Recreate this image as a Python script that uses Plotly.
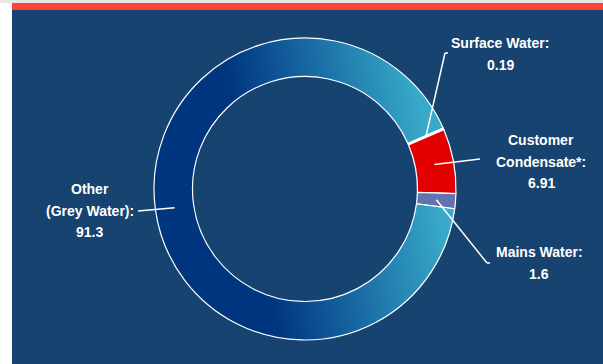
import math
import base64
import plotly.graph_objects as go

# ---------------- data ----------------
labels = ["Surface Water", "Customer Condensate*", "Mains Water", "Other (Grey Water)"]
values = [0.19, 6.91, 1.6, 91.3]
value_text = ["0.19", "6.91", "1.6", "91.3"]
label_lines = [["Surface Water:"], ["Customer", "Condensate*:"], ["Mains Water:"], ["Other", "(Grey Water):"]]

# ---------------- style / layout ----------------
W, H = 603, 364
BG = "#16436F"
slice_colors = ["#dce6f0", "#e20000", "#6373ad", "rgba(0,0,0,0)"]
CX, CY, R_OUT = 305, 189, 151
HOLE = 0.745
ROT = 66.2
FONT = dict(family="Liberation Sans, Arial, sans-serif", size=14, color="white", weight="bold")
LINE_GAP = 21.5

# label block anchor (centre of first line) and leader-line outer end, in pixels
label_pos = [(500, 43), (541, 140), (539, 252), (90, 189)]
leader_end = [(445, 53), (480, 159), (487, 263), (138, 211)]
leader_hook = [(448, 53), None, (490, 263), None]


def px(x):
    return x / W


def py(y):
    return 1 - y / H


fig = go.Figure()

fig.add_trace(go.Pie(
    labels=labels,
    values=values,
    hole=HOLE,
    sort=False,
    direction="clockwise",
    rotation=ROT,
    marker=dict(colors=slice_colors, line=dict(color="white", width=1.2)),
    textinfo="none",
    hoverinfo="label+value",
    showlegend=False,
    domain=dict(x=[px(CX - R_OUT), px(CX + R_OUT)], y=[py(CY + R_OUT), py(CY - R_OUT)]),
))

# gradient fill of the large ring slice (image behind the pie)
r_mid_u = 50 * (1 + HOLE) / 2
sw_u = 50 * (1 - HOLE) + 0.3
svg = (
    "<svg xmlns='http://www.w3.org/2000/svg' viewBox='0 0 100 100' width='302' height='302'>"
    "<defs><linearGradient id='g' gradientUnits='userSpaceOnUse' x1='32.1' y1='53.4' x2='91.7' y2='42.0'>"
    "<stop offset='0' stop-color='#003580'/>"
    "<stop offset='0.5' stop-color='#1a6ea6'/>"
    "<stop offset='1' stop-color='#38a9c8'/>"
    "</linearGradient></defs>"
    f"<circle cx='50' cy='50' r='{r_mid_u:.3f}' fill='none' stroke='url(#g)' stroke-width='{sw_u:.3f}'/>"
    "</svg>"
)
src = "data:image/svg+xml;base64," + base64.b64encode(svg.encode()).decode()
fig.add_layout_image(dict(
    source=src, xref="paper", yref="paper",
    x=px(CX - R_OUT), y=py(CY - R_OUT),
    sizex=2 * R_OUT / W, sizey=2 * R_OUT / H,
    xanchor="left", yanchor="top", sizing="stretch", layer="below",
))

# frame decoration
shapes = [
    dict(type="rect", xref="paper", yref="paper", x0=0, x1=px(12), y0=0, y1=1,
         fillcolor="white", line=dict(width=0), layer="below"),
    dict(type="rect", xref="paper", yref="paper", x0=0, x1=1, y0=py(3), y1=1,
         fillcolor="#e9e7e4", line=dict(width=0), layer="below"),
    dict(type="rect", xref="paper", yref="paper", x0=px(12), x1=1, y0=py(10), y1=py(3),
         fillcolor="#fd4338", line=dict(width=0), layer="below"),
]

# leader lines from slice mid-angle (computed from data) to label
total = sum(values)
r_mid_px = R_OUT * (1 + HOLE) / 2
cum = 0.0
annotations = []
for i, v in enumerate(values):
    mid = math.radians(ROT + 360 * (cum + v / 2) / total)
    cum += v
    mx = CX + r_mid_px * math.sin(mid)
    my = CY - r_mid_px * math.cos(mid)
    ex, ey = leader_end[i]
    shapes.append(dict(type="line", xref="paper", yref="paper",
                       x0=px(mx), y0=py(my), x1=px(ex), y1=py(ey),
                       line=dict(color="white", width=1.5)))
    if leader_hook[i]:
        hx, hy = leader_hook[i]
        shapes.append(dict(type="line", xref="paper", yref="paper",
                           x0=px(ex), y0=py(ey), x1=px(hx), y1=py(hy),
                           line=dict(color="white", width=1.5)))
    lx, ly = label_pos[i]
    lines = label_lines[i] + [value_text[i]]
    for k, t in enumerate(lines):
        annotations.append(dict(text=t, xref="paper", yref="paper",
                                x=px(lx), y=py(ly + k * LINE_GAP),
                                xanchor="center", yanchor="middle",
                                showarrow=False, font=FONT))

fig.update_layout(
    width=W, height=H,
    margin=dict(l=0, r=0, t=0, b=0),
    paper_bgcolor=BG,
    plot_bgcolor=BG,
    shapes=shapes,
    annotations=annotations,
)

fig.write_html("out.html")
